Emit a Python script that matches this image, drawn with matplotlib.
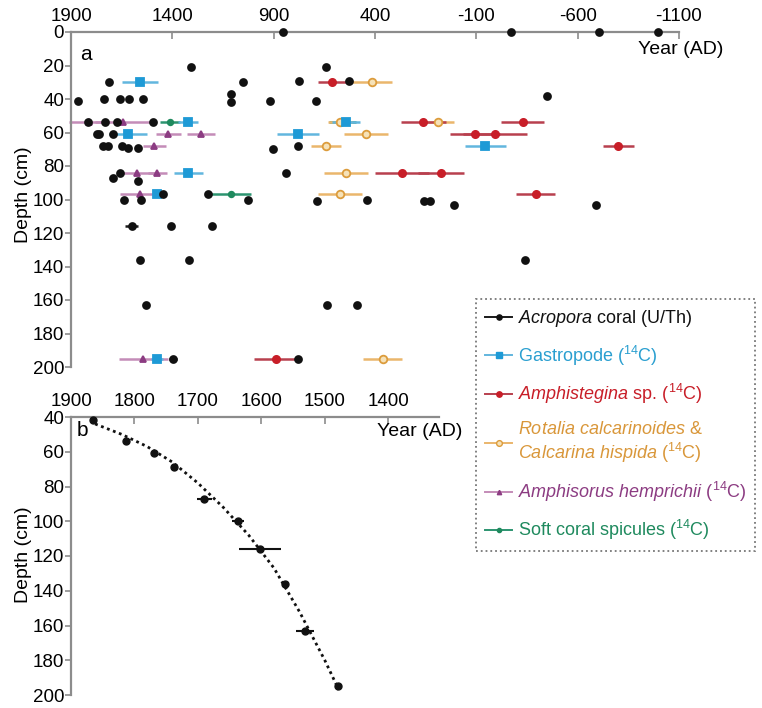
import matplotlib.pyplot as plt
from matplotlib.lines import Line2D

plt.rcParams['font.family'] = 'Liberation Sans'
plt.rcParams['mathtext.fontset'] = 'custom'
plt.rcParams['mathtext.rm'] = 'Liberation Sans'
plt.rcParams['mathtext.it'] = 'Liberation Sans:italic'
plt.rcParams['mathtext.default'] = 'regular'
plt.rcParams['axes.unicode_minus'] = False

# ---- panel a: year (AD), depth (cm), +/- error (yr) ----
acro_year = [853, -269, -703, -997, 1308, 640, 1713, 1053, 775, 530, 1111, -450,
             1864, 1739, 1658, 1612, 1543, 1111, 918, 693, 1816, 1732, 1673, 1495,
             1773, 1762, 1691, 1741, 1718, 1650, 1620, 1568, 905, 779, 1658, 840,
             1691, 1568, 1448, 1226, 1637, 1555, 1028, 688, 441, 157, 129, 9, -688,
             1601, 1407, 1203, 1562, 1317, -340, 1531, 639, 491, 1398, 779]
acro_depth = [0, 0, 0, 0, 21, 21, 30, 30, 29, 29, 37, 38,
              41, 40, 40, 40, 40, 42, 41, 41, 54, 54, 54, 54,
              61, 61, 61, 68, 68, 68, 69, 69, 70, 68, 84, 84,
              87, 89, 97, 97, 100, 100, 100, 101, 100, 101, 101, 103, 103,
              116, 116, 116, 136, 136, 136, 163, 163, 163, 195, 195]
acro_err = [0, 15, 15, 10, 0, 0, 0, 0, 0, 0, 0, 0,
            0, 0, 0, 0, 0, 0, 0, 0, 0, 0, 0, 0,
            0, 0, 0, 0, 0, 0, 0, 0, 0, 0, 0, 0,
            12, 0, 0, 0, 10, 0, 0, 0, 0, 0, 0, 0, 0,
            33, 0, 0, 5, 0, 0, 14, 0, 0, 20, 0]

gast_year = [1560, 1324, 543, 1617, 779, -145, 1321, 1477, 1474]
gast_depth = [30, 54, 54, 61, 61, 68, 84, 97, 195]
gast_err = [88, 50, 70, 94, 103, 100, 70, 20, 30]

amph_year = [612, 162, -328, -93, -192, -800, 268, 75, -394, 889]
amph_depth = [30, 54, 54, 61, 61, 68, 84, 84, 97, 195]
amph_err = [70, 110, 107, 123, 160, 76, 132, 115, 96, 110]

rota_year = [417, 88, 573, 445, 642, 543, 573, 362]
rota_depth = [30, 54, 54, 61, 68, 84, 97, 195]
rota_err = [100, 80, 60, 108, 74, 108, 107, 97]

sori_year = [1810, 1643, 1420, 1259, 1489, 1576, 1474, 1560, 1543]
sori_depth = [54, 54, 61, 61, 68, 84, 84, 97, 195]
sori_err = [100, 140, 62, 70, 57, 90, 46, 100, 120]

soft_year = [1412, 560, 1110]
soft_depth = [54, 54, 97]
soft_err = [50, 65, 100]

# ---- panel b: Acropora age-depth ----
b_year = [1866, 1813, 1769, 1738, 1690, 1637, 1602, 1563, 1531, 1479]
b_depth = [42, 54, 61, 69, 87, 100, 116, 136, 163, 195]
b_err = [0, 0, 0, 0, 12, 10, 33, 5, 14, 5]
curve_year = [1862, 1820, 1780, 1740, 1700, 1660, 1620, 1580, 1540, 1500, 1478]
curve_depth = [44, 50, 57, 66, 78, 92, 108, 127, 152, 180, 197]

a_xticks = [1900, 1400, 900, 400, -100, -600, -1100]
b_xticks = [1900, 1800, 1700, 1600, 1500, 1400]

# name, year, depth, err, line colour, marker, face, edge, size, text colour
series = [
    ('Soft coral spicules ($^{14}$C)', soft_year, soft_depth, soft_err,
     '#2c9470', 'o', '#1f8a5e', '#1f8a5e', 4, '#1f8a5e'),
    ('$\\it{Amphisorus\\ hemprichii}$ ($^{14}$C)', sori_year, sori_depth, sori_err,
     '#c48cb8', '^', '#8c3c82', '#8c3c82', 4.2, '#8c3c82'),
    ('$\\it{Rotalia\\ calcarinoides}$ &\n$\\it{Calcarina\\ hispida}$ ($^{14}$C)', rota_year, rota_depth, rota_err,
     '#eab66c', 'o', '#f6e2b8', '#dc9c3c', 5.5, '#d9973a'),
    ('$\\it{Amphistegina}$ sp. ($^{14}$C)', amph_year, amph_depth, amph_err,
     '#b8404e', 'o', '#c81e28', '#c81e28', 5.2, '#c81e28'),
    ('Gastropode ($^{14}$C)', gast_year, gast_depth, gast_err,
     '#62b6de', 's', '#1e9ad6', '#1e9ad6', 5.2, '#2a9fd0'),
    ('$\\it{Acropora}$ coral (U/Th)', acro_year, acro_depth, acro_err,
     '#1a1a1a', 'o', '#111111', '#111111', 5, '#111111'),
]

fig = plt.figure(figsize=(7.62, 7.08), dpi=100)
W, H = 762, 708
spine_c = '#8c8c8c'
fs = 13.5


def style_axes(ax):
    for s in ['bottom', 'right']:
        ax.spines[s].set_visible(False)
    for s in ['top', 'left']:
        ax.spines[s].set_color(spine_c)
        ax.spines[s].set_linewidth(1.6)
    ax.xaxis.tick_top()
    ax.tick_params(axis='x', direction='in', length=5, width=1.2, color=spine_c,
                   labelsize=fs, pad=5)
    ax.tick_params(axis='y', direction='out', length=4, width=1.2, color=spine_c,
                   labelsize=fs, pad=1)


# panel a
axa = fig.add_axes([71 / W, 1 - 367 / H, 608 / W, 335 / H])
style_axes(axa)
handles, labels, tcolors = [], [], []
for name, xs, ys, es, lc, mk, fc, ec, ms, tc in series:
    axa.errorbar(xs, ys, xerr=es, fmt='none', ecolor=lc, elinewidth=1.8,
                 capsize=0, clip_on=False, zorder=2)
for name, xs, ys, es, lc, mk, fc, ec, ms, tc in series:
    axa.plot(xs, ys, ls='none', marker=mk, ms=ms, mfc=fc, mec=ec, mew=1.3,
             clip_on=False, zorder=3)
    handles.append(Line2D([], [], color=lc, lw=1.4, marker=mk, ms=ms * 0.75,
                          mfc=fc, mec=ec))
    labels.append(name)
    tcolors.append(tc)
axa.set_xlim(1900, -1100)
axa.set_ylim(200, 0)
axa.set_xticks(a_xticks)
axa.set_yticks(range(0, 201, 20))
axa.text(0.015, 0.96, 'a', transform=axa.transAxes, fontsize=15, va='top')

# legend, reversed so Acropora comes first
leg = fig.legend(handles[::-1], labels[::-1], loc='upper left',
                 bbox_to_anchor=(476 / W, 1 - 299 / H), borderaxespad=0,
                 fontsize=13, labelcolor=tcolors[::-1], frameon=True,
                 fancybox=False, handlelength=1.5, handletextpad=0.3,
                 labelspacing=0.8, borderpad=0.5)
fr = leg.get_frame()
fr.set_edgecolor('#555555')
fr.set_linestyle(':')
fr.set_linewidth(1.3)

# panel b
axb = fig.add_axes([71 / W, 1 - 695 / H, 368 / W, 278 / H])
style_axes(axb)
axb.plot(curve_year, curve_depth, ls=(0, (1, 1.3)), color='#111111', lw=2, zorder=2)
axb.errorbar(b_year, b_depth, xerr=b_err, fmt='o', color='#111111', ms=5,
             ecolor='#111111', elinewidth=1.5, capsize=0, clip_on=False, zorder=3)
axb.set_xlim(1900, 1320)
axb.set_ylim(200, 40)
axb.set_xticks(b_xticks)
axb.set_yticks(range(40, 201, 20))
axb.text(0.015, 0.985, 'b', transform=axb.transAxes, fontsize=15, va='top')

fig.text(681 / W, 1 - 50 / H, 'Year (AD)', ha='center', va='center', fontsize=14)
fig.text(420 / W, 1 - 432 / H, 'Year (AD)', ha='center', va='center', fontsize=14)
fig.text(24 / W, 1 - 195 / H, 'Depth (cm)', rotation=90, ha='center', va='center', fontsize=14)
fig.text(24 / W, 1 - 555 / H, 'Depth (cm)', rotation=90, ha='center', va='center', fontsize=14)

fig.savefig('out.png', dpi=100)
